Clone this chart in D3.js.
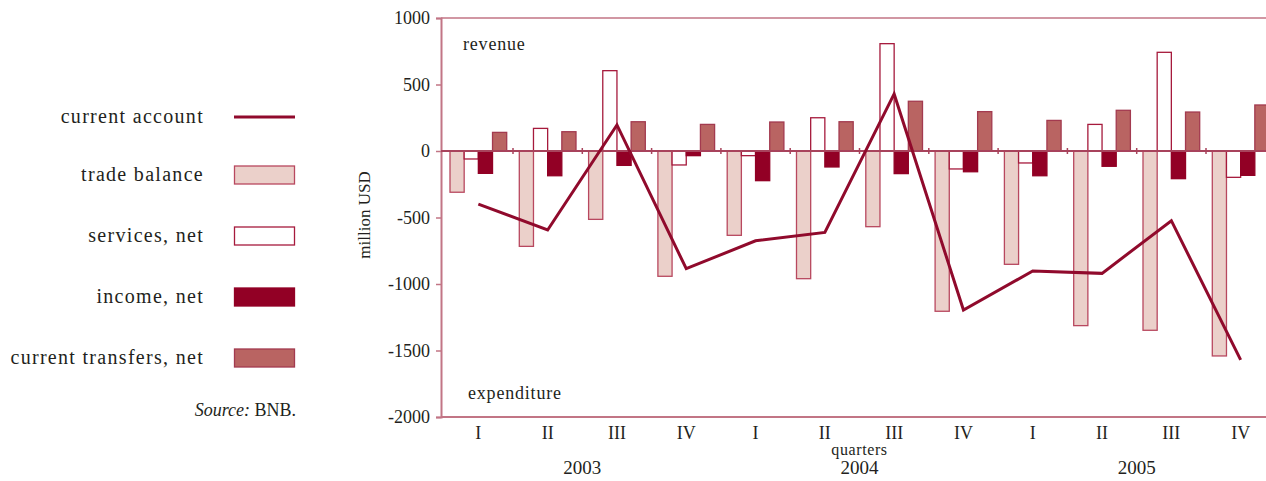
<!DOCTYPE html>
<html>
<head>
<meta charset="utf-8">
<script src="https://cdn.jsdelivr.net/npm/d3@7"></script>
<style>
  body { margin: 0; background: #fff; }
  svg text { font-family: "Liberation Serif", "DejaVu Serif", serif; fill: #231f20; }
</style>
</head>
<body>
<script>
// quarters 2003 Q1 .. 2005 Q4
var quarters = ["I", "II", "III", "IV", "I", "II", "III", "IV", "I", "II", "III", "IV"];
var years = ["2003", "2004", "2005"];
var yTicks = [1000, 500, 0, -500, -1000, -1500, -2000];

var tradeBalance = [-310, -717, -514, -942, -634, -960, -569, -1205, -852, -1313, -1348, -1541];
var servicesNet = [-60, 170, 604, -105, -35, 250, 807, -135, -90, 200, 742, -198];
var incomeNet = [-168, -186, -108, -35, -223, -120, -170, -156, -186, -115, -208, -183];
var transfersNet = [140, 145, 220, 200, 218, 220, 374, 296, 230, 306, 293, 346];
var currentAccount = [-399, -594, 196, -885, -675, -612, 429, -1196, -902, -920, -524, -1571];

var seriesNames = ["trade balance", "services, net", "income, net", "current transfers, net"];

var width = 1266, height = 481;
var plotLeft = 441, plotTop = 18, plotBottom = 417;

var svg = d3.select("body").append("svg")
    .attr("width", width)
    .attr("height", height)
    .attr("font-family", "Liberation Serif, serif");

var y = d3.scaleLinear().domain([-2000, 1000]).range([plotBottom, plotTop]);

var x = d3.scaleBand()
    .domain(d3.range(quarters.length))
    .range([443.7, 443.7 + 69.3 * 12])
    .padding(0);

var inner = d3.scaleBand()
    .domain(d3.range(4))
    .range([6.3, x.bandwidth() - 6.3]);

var styles = [
  { fill: "#ebd0ca", stroke: "#b8485f" },
  { fill: "#ffffff", stroke: "#a61a3c" },
  { fill: "#920025", stroke: "#920025" },
  { fill: "#b96462", stroke: "#a33a4f" }
];
var frameColor = "#c27585";
var lineColor = "#900a2c";

// frame: top line and bottom line
svg.append("line")
    .attr("x1", plotLeft).attr("x2", width)
    .attr("y1", plotTop).attr("y2", plotTop)
    .attr("stroke", frameColor).attr("stroke-width", 1.5);
svg.append("line")
    .attr("x1", plotLeft).attr("x2", width)
    .attr("y1", plotBottom).attr("y2", plotBottom)
    .attr("stroke", frameColor).attr("stroke-width", 2);

var yAxis = svg.append("g")
    .attr("transform", "translate(" + plotLeft + ",0)")
    .call(d3.axisLeft(y).tickValues(yTicks).tickSize(5).tickPadding(6)
      .tickFormat(function(d) { return String(d); }));
yAxis.attr("font-family", null).attr("font-size", null);
yAxis.select(".domain").attr("stroke", frameColor).attr("stroke-width", 2);
yAxis.selectAll(".tick line").attr("stroke", frameColor).attr("stroke-width", 1.5);
yAxis.selectAll(".tick text")
    .style("font-size", "18px")
    .attr("fill", "#231f20");

// bars
var series = [tradeBalance, servicesNet, incomeNet, transfersNet];
series.forEach(function(vals, s) {
  svg.append("g").selectAll("rect")
    .data(vals)
    .enter()
    .append("rect")
    .attr("x", function(d, i) { return x(i) + inner(s); })
    .attr("width", inner.bandwidth())
    .attr("y", function(d) { return y(Math.max(0, d)); })
    .attr("height", function(d) { return Math.abs(y(d) - y(0)); })
    .attr("fill", styles[s].fill)
    .attr("stroke", styles[s].stroke)
    .attr("stroke-width", 1.3);
});

// zero line with group ticks
svg.append("line")
    .attr("x1", plotLeft).attr("x2", width)
    .attr("y1", y(0)).attr("y2", y(0))
    .attr("stroke", "#a8435c").attr("stroke-width", 2);
svg.append("g").selectAll("line")
    .data(d3.range(1, quarters.length))
    .enter()
    .append("line")
    .attr("x1", function(d) { return x(d); })
    .attr("x2", function(d) { return x(d); })
    .attr("y1", y(0) - 3).attr("y2", y(0) + 3)
    .attr("stroke", "#a8435c").attr("stroke-width", 1.5);

// current account line
var line = d3.line()
    .x(function(d, i) { return x(i) + x.bandwidth() / 2; })
    .y(function(d) { return y(d); });
svg.append("path")
    .datum(currentAccount)
    .attr("d", line)
    .attr("fill", "none")
    .attr("stroke", lineColor)
    .attr("stroke-width", 3);

// x labels
svg.append("g").selectAll("text")
    .data(quarters)
    .enter()
    .append("text")
    .attr("x", function(d, i) { return x(i) + x.bandwidth() / 2; })
    .attr("y", 439)
    .attr("text-anchor", "middle")
    .style("font-size", "18px")
    .text(function(d) { return d; });

svg.append("g").selectAll("text")
    .data(years)
    .enter()
    .append("text")
    .attr("x", function(d, i) { return x(i * 4 + 2); })
    .attr("y", 474)
    .attr("text-anchor", "middle")
    .style("font-size", "19px")
    .text(function(d) { return d; });

svg.append("text")
    .attr("x", x(6)).attr("y", 455)
    .attr("text-anchor", "middle")
    .style("font-size", "16px")
    .style("letter-spacing", "0.6px")
    .text("quarters");

svg.append("text")
    .attr("transform", "translate(370,215) rotate(-90)")
    .attr("text-anchor", "middle")
    .style("font-size", "17px")
    .text("million USD");

svg.append("text").attr("x", 463).attr("y", 50)
    .style("font-size", "18px").style("letter-spacing", "0.8px").text("revenue");
svg.append("text").attr("x", 468).attr("y", 399)
    .style("font-size", "18px").style("letter-spacing", "0.8px").text("expenditure");

// legend
var legendY = [117, 175, 236, 297, 358];
var legendNames = ["current account"].concat(seriesNames);
var lg = svg.append("g");
legendNames.forEach(function(name, i) {
  lg.append("text")
    .attr("x", 204).attr("y", legendY[i] + 6)
    .attr("text-anchor", "end")
    .style("font-size", "20px")
    .style("letter-spacing", "1.3px")
    .text(name);
  if (i === 0) {
    lg.append("line")
      .attr("x1", 234).attr("x2", 295)
      .attr("y1", legendY[i]).attr("y2", legendY[i])
      .attr("stroke", lineColor).attr("stroke-width", 3);
  } else {
    lg.append("rect")
      .attr("x", 234.5).attr("y", legendY[i] - 9)
      .attr("width", 60).attr("height", 18)
      .attr("fill", styles[i - 1].fill)
      .attr("stroke", styles[i - 1].stroke)
      .attr("stroke-width", 1.3);
  }
});
var src = lg.append("text")
    .attr("x", 296).attr("y", 416)
    .attr("text-anchor", "end")
    .style("font-size", "18px");
src.append("tspan").style("font-style", "italic").text("Source:");
src.append("tspan").text(" BNB.");
</script>
</body>
</html>
